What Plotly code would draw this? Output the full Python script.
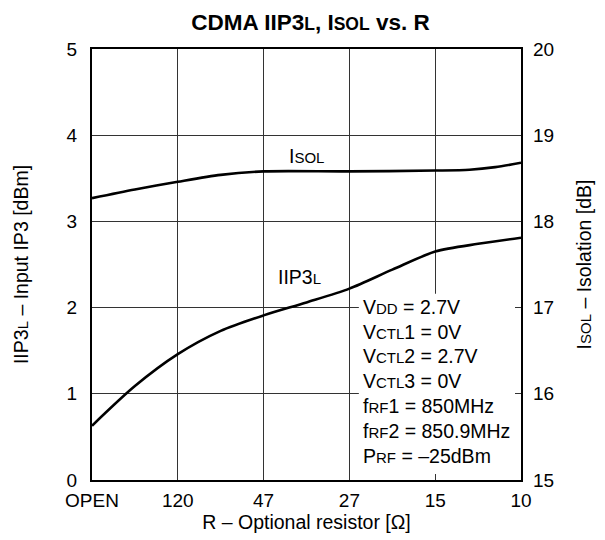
import plotly.graph_objects as go

# Categories on the x axis (equally spaced)
categories = ["OPEN", "120", "47", "27", "15", "10"]
cat_pos = [0, 1, 2, 3, 4, 5]

# IIP3L curve (left axis, dBm) read at category positions and half steps
iip3_x = [0, 0.5, 1, 1.5, 2, 2.5, 3, 3.5, 4, 4.5, 5]
iip3_y = [0.63, 1.09, 1.46, 1.73, 1.91, 2.06, 2.22, 2.44, 2.65, 2.74, 2.81]

# ISOL curve (right axis, dB)
isol_x = [0, 0.5, 1, 1.5, 2, 3, 4, 4.4, 4.7, 5]
isol_y = [18.27, 18.37, 18.46, 18.54, 18.58, 18.58, 18.59, 18.60, 18.63, 18.68]

left_ticks = [0, 1, 2, 3, 4, 5]
right_ticks = [15, 16, 17, 18, 19, 20]

# Test conditions text (main part, small-caps subscript part, remainder)
cond_lines = [
    ("V", "DD", " = 2.7V"),
    ("V", "CTL", "1 = 0V"),
    ("V", "CTL", "2 = 2.7V"),
    ("V", "CTL", "3 = 0V"),
    ("f", "RF", "1 = 850MHz"),
    ("f", "RF", "2 = 850.9MHz"),
    ("P", "RF", " = \u201325dBm"),
]

FONT = "Liberation Sans, Arial, sans-serif"
TXT = 19.5
SC = 15  # small-caps size


def sc(t, size=SC):
    return f"<span style='font-size:{size}px'>{t}</span>"


fig = go.Figure()
fig.add_trace(go.Scatter(x=iip3_x, y=iip3_y, mode="lines",
                         line=dict(color="black", width=2.6, shape="spline", smoothing=0.8),
                         showlegend=False, hoverinfo="skip"))
fig.add_trace(go.Scatter(x=isol_x, y=isol_y, mode="lines", yaxis="y2",
                         line=dict(color="black", width=2.6, shape="spline", smoothing=0.8),
                         showlegend=False, hoverinfo="skip"))

# white box behind the conditions text (covers grid lines, not ticks)
fig.add_shape(type="rect", xref="x", yref="y", x0=3.11, x1=4.94, y0=0.03, y1=2.16,
              fillcolor="white", line=dict(width=0), layer="between")

y_top = 2.01
step = 0.288
for i, (a, b, c) in enumerate(cond_lines):
    fig.add_annotation(x=3.13, y=y_top - i * step, xref="x", yref="y",
                       text=a + sc(b) + c, showarrow=False,
                       xanchor="left", yanchor="middle", align="left",
                       font=dict(family=FONT, size=TXT, color="black"))

fig.add_annotation(x=2.5, y=3.76, xref="x", yref="y", text="I" + sc("SOL"), showarrow=False,
                   font=dict(family=FONT, size=TXT, color="black"))
fig.add_annotation(x=2.42, y=2.36, xref="x", yref="y", text="IIP3" + sc("L"), showarrow=False,
                   font=dict(family=FONT, size=TXT, color="black"))

fig.update_layout(
    width=605, height=540,
    margin=dict(l=81.5, r=92, t=41, b=67.5),
    paper_bgcolor="white", plot_bgcolor="white",
    font=dict(family=FONT, size=19, color="black"),
    title=dict(text="<b>CDMA IIP3" + sc("L", 17.5) + ", I" + sc("SOL", 17.5) + " vs. R</b>",
               x=0.5, xanchor="center", y=1 - 14 / 540, yanchor="middle", yref="container",
               font=dict(family=FONT, size=22.5, color="black")),
    xaxis=dict(range=[0, 5], tickvals=cat_pos, ticktext=categories,
               showgrid=True, gridcolor="#333", gridwidth=1,
               showline=True, linecolor="black", linewidth=2, mirror=True,
               ticks="inside", ticklen=6, tickcolor="#333", tickwidth=1,
               zeroline=False, tickfont=dict(size=19), ticklabelstandoff=2,
               title=dict(text="R \u2013 Optional resistor [\u03a9]", standoff=5,
                          font=dict(family=FONT, size=19.5))),
    yaxis=dict(range=[0, 5], tickvals=left_ticks,
               showgrid=True, gridcolor="#333", gridwidth=1,
               showline=True, linecolor="black", linewidth=2, mirror=True,
               ticks="inside", ticklen=6, tickcolor="#333", tickwidth=1,
               zeroline=False, ticklabelstandoff=9, tickfont=dict(size=19),
               title=dict(text="IIP3" + sc("L") + " \u2013 Input IP3 [dBm]", standoff=33,
                          font=dict(family=FONT, size=19.5))),
    yaxis2=dict(range=[15, 20], tickvals=right_ticks, overlaying="y", side="right",
                showgrid=False, showline=False,
                ticks="inside", ticklen=6, tickcolor="#333", tickwidth=1,
                zeroline=False, ticklabelstandoff=11, tickfont=dict(size=19),
                title=dict(text="I" + sc("SOL") + " \u2013 Isolation [dB]", standoff=24,
                           font=dict(family=FONT, size=19.5))),
)

fig.write_html("out.html")
